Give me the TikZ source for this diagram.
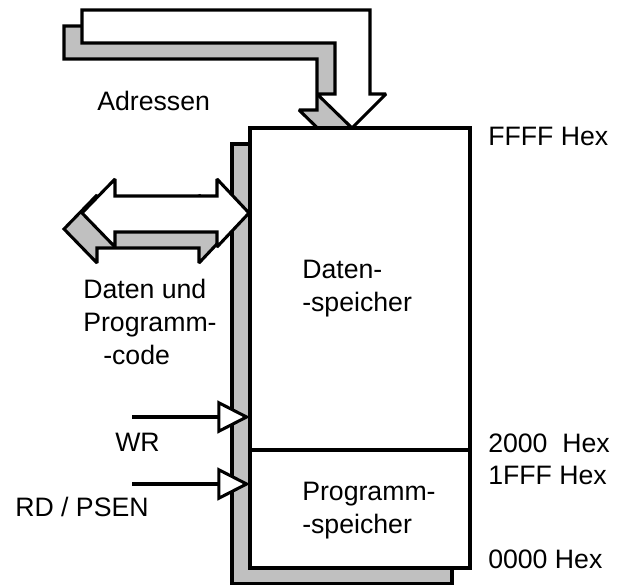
\documentclass[tikz,border=0pt]{standalone}
\usepackage{fontspec}
\setmainfont{Liberation Sans}
\usetikzlibrary{arrows.meta,positioning}
\definecolor{shadowgray}{RGB}{192,192,192}
\tikzstyle{outline} = [draw, line width=2.3pt, line join=miter, miter limit=1.5]
\tikzstyle{mem} = [rectangle, draw, line width=2.3pt, fill=white, minimum width=165pt, inner sep=0pt, outer sep=0pt]
\tikzstyle{txt} = [font=\fontsize{20}{24.75}\selectfont, inner sep=0pt, anchor=base west, align=left]
\tikzstyle{signal} = [draw, line width=2.3pt, -{Triangle[fill=white, length=24.5pt, width=24.5pt]}]

\begin{document}
\begin{tikzpicture}[x=0.75pt, y=-0.75pt]
\useasboundingbox (0,0) rectangle (619,585);

% shadow of the memory block
\filldraw[outline, fill=shadowgray] (232,144) rectangle (452,584);

% address bus, shadow first
\foreach \dx/\dy/\col in {-18/16/shadowgray, 0/0/white}
  \filldraw[outline, fill=\col, shift={(\dx,\dy)}]
    (82,10) -- (370,10) -- (370,94) -- (386,94) -- (352,128) -- (317,94)
    -- (335,94) -- (335,43) -- (82,43) -- cycle;

% data bus (both ways)
\foreach \dx/\dy/\col in {-18/16/shadowgray, 0/0/white}
  \filldraw[outline, fill=\col, shift={(\dx,\dy)}]
    (82,213) -- (115,179) -- (115,196) -- (217,196) -- (217,179) -- (249,213)
    -- (217,247) -- (217,232) -- (115,232) -- (115,247) -- cycle;

\node [mem, minimum height=241.5pt] (datamem) at (360,289) {};
\node [mem, minimum height=88.5pt, below=0pt of datamem] (progmem) {};

% base of a two-line label sits on its last line
\node [txt] (datlabel) at (302,312) {Daten-\\-speicher};
\node [txt] (proglabel) at (302,533) {Programm-\\-speicher};

% control lines
\coordinate (wrin) at (132,417);
\coordinate (rdin) at (132,484);
\path [signal] (wrin) -- (wrin -| datamem.west);
\path [signal] (rdin) -- (rdin -| progmem.west);

\node [txt] (adr) at (97,111) {Adressen};
\node [txt] (bus) at (83,364) {Daten und\\Programm-\\\hspace*{0.75em}-code};
\node [txt] (wr) at (115,451) {WR};
\node [txt] (rd) at (15,517) {RD / PSEN};

\node [txt] (top) at (488,146) {FFFF Hex};
\node [txt] (dstart) at (488,452) {2000\ \ Hex};
\node [txt] (pend) at (488,484) {1FFF Hex};
\node [txt] (bottom) at (488,568) {0000 Hex};

\end{tikzpicture}
\end{document}
